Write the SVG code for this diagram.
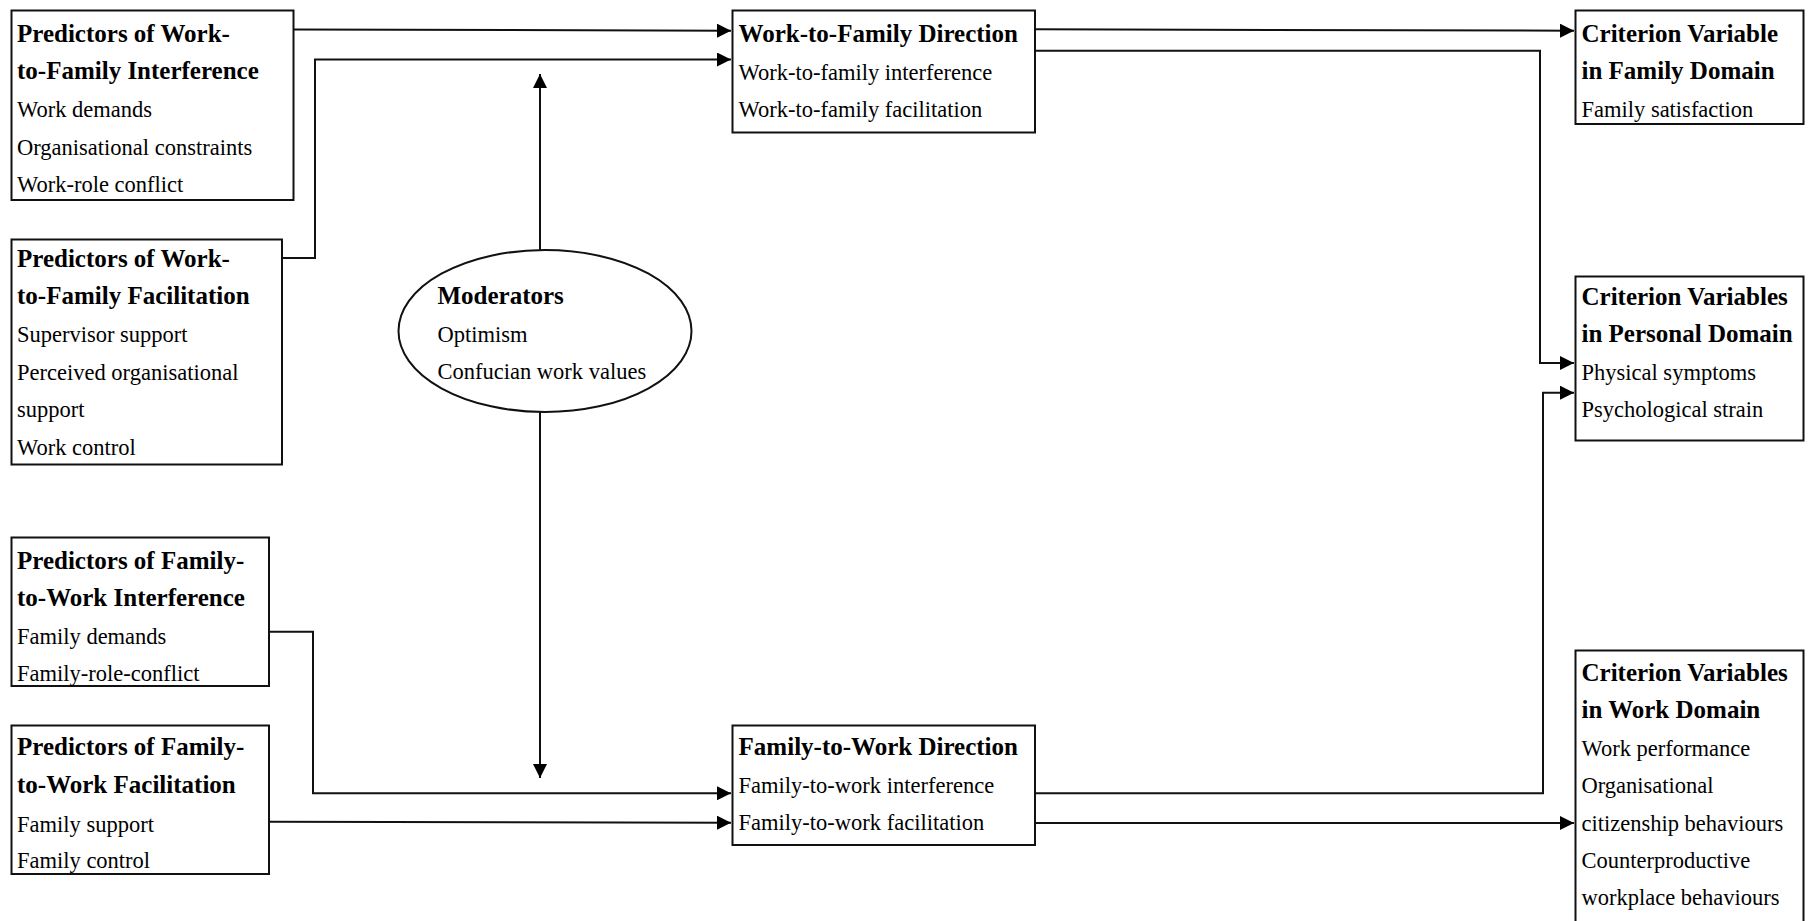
<svg xmlns="http://www.w3.org/2000/svg" width="1810" height="921" viewBox="0 0 1810 921">
  <style>
    .box { fill: #fff; stroke: #111; stroke-width: 2; }
    .wire { fill: none; stroke: #111; stroke-width: 2; }
    text { font-family: "Liberation Serif", "Times New Roman", serif; fill: #000; }
    .h { font-size: 25px; font-weight: bold; }
    .t { font-size: 22.5px; }
  </style>
  <defs>
    <marker id="arrow" markerUnits="userSpaceOnUse" markerWidth="15" markerHeight="14" refX="14" refY="7" orient="auto">
      <path d="M0,0 L14,7 L0,14 Z" fill="#000"/>
    </marker>
  </defs>

  <!-- connectors -->
  <g id="connectors">
    <path class="wire" d="M293,29.5 L731,30.7" marker-end="url(#arrow)"/>
    <path class="wire" d="M282,258 H315 V59.5 H731" marker-end="url(#arrow)"/>
    <path class="wire" d="M269,631.7 H313 V793.3 H731" marker-end="url(#arrow)"/>
    <path class="wire" d="M269,821.7 L731,822.7" marker-end="url(#arrow)"/>
    <path class="wire" d="M1035,29.3 L1574,30.7" marker-end="url(#arrow)"/>
    <path class="wire" d="M1035,50.7 H1540 V363 H1574" marker-end="url(#arrow)"/>
    <path class="wire" d="M1035,793.3 H1543 V392.7 H1574" marker-end="url(#arrow)"/>
    <path class="wire" d="M1035,823 H1574" marker-end="url(#arrow)"/>
    <path class="wire" d="M540,250 V74" marker-end="url(#arrow)"/>
    <path class="wire" d="M540,412 V778" marker-end="url(#arrow)"/>
  </g>

  <!-- predictor boxes -->
  <g id="pred-wfi">
    <rect class="box" x="11.5" y="10.5" width="282" height="189.5"/>
    <text class="h" x="17" y="41.5">Predictors of Work-</text>
    <text class="h" x="17" y="79">to-Family Interference</text>
    <text class="t" x="17" y="116.5">Work demands</text>
    <text class="t" x="17" y="154.5">Organisational constraints</text>
    <text class="t" x="17" y="191.5">Work-role conflict</text>
  </g>
  <g id="pred-wff">
    <rect class="box" x="11.5" y="239.5" width="270.5" height="225"/>
    <text class="h" x="17" y="266.5">Predictors of Work-</text>
    <text class="h" x="17" y="304.2">to-Family Facilitation</text>
    <text class="t" x="17" y="342.2">Supervisor support</text>
    <text class="t" x="17" y="379.8">Perceived organisational</text>
    <text class="t" x="17" y="416.5">support</text>
    <text class="t" x="17" y="454.8">Work control</text>
  </g>
  <g id="pred-fwi">
    <rect class="box" x="11.5" y="537.5" width="257.5" height="148.5"/>
    <text class="h" x="17" y="568.8">Predictors of Family-</text>
    <text class="h" x="17" y="605.5">to-Work Interference</text>
    <text class="t" x="17" y="643.8">Family demands</text>
    <text class="t" x="17" y="680.5">Family-role-conflict</text>
  </g>
  <g id="pred-fwf">
    <rect class="box" x="11.5" y="725.5" width="257.5" height="148.5"/>
    <text class="h" x="17" y="754.8">Predictors of Family-</text>
    <text class="h" x="17" y="792.5">to-Work Facilitation</text>
    <text class="t" x="17" y="831.5">Family support</text>
    <text class="t" x="17" y="868.2">Family control</text>
  </g>

  <!-- moderators -->
  <g id="moderators">
    <ellipse class="box" cx="545" cy="331" rx="146.5" ry="81"/>
    <text class="h" x="437.5" y="303.5">Moderators</text>
    <text class="t" x="437.5" y="341.8">Optimism</text>
    <text class="t" x="437.5" y="378.5">Confucian work values</text>
  </g>

  <!-- direction boxes -->
  <g id="dir-wf">
    <rect class="box" x="732.5" y="10.5" width="302.5" height="122"/>
    <text class="h" x="738.6" y="41.5">Work-to-Family Direction</text>
    <text class="t" x="738.6" y="79.8">Work-to-family interference</text>
    <text class="t" x="738.6" y="116.5">Work-to-family facilitation</text>
  </g>
  <g id="dir-fw">
    <rect class="box" x="732.5" y="725.5" width="302.5" height="119.5"/>
    <text class="h" x="738.6" y="754.8">Family-to-Work Direction</text>
    <text class="t" x="738.6" y="793.2">Family-to-work interference</text>
    <text class="t" x="738.6" y="829.8">Family-to-work facilitation</text>
  </g>

  <!-- criterion boxes -->
  <g id="crit-family">
    <rect class="box" x="1575.5" y="10.5" width="228" height="113.5"/>
    <text class="h" x="1581.5" y="41.5">Criterion Variable</text>
    <text class="h" x="1581.5" y="78.8">in Family Domain</text>
    <text class="t" x="1581.5" y="116.5">Family satisfaction</text>
  </g>
  <g id="crit-personal">
    <rect class="box" x="1575.5" y="276.5" width="228" height="164"/>
    <text class="h" x="1581.5" y="304.8">Criterion Variables</text>
    <text class="h" x="1581.5" y="342.2">in Personal Domain</text>
    <text class="t" x="1581.5" y="379.8">Physical symptoms</text>
    <text class="t" x="1581.5" y="416.5">Psychological strain</text>
  </g>
  <g id="crit-work">
    <rect class="box" x="1575.5" y="650.5" width="228" height="290"/>
    <text class="h" x="1581.5" y="680.8">Criterion Variables</text>
    <text class="h" x="1581.5" y="718.2">in Work Domain</text>
    <text class="t" x="1581.5" y="755.5">Work performance</text>
    <text class="t" x="1581.5" y="793.2">Organisational</text>
    <text class="t" x="1581.5" y="830.8">citizenship behaviours</text>
    <text class="t" x="1581.5" y="867.5">Counterproductive</text>
    <text class="t" x="1581.5" y="904.8">workplace behaviours</text>
  </g>
</svg>
